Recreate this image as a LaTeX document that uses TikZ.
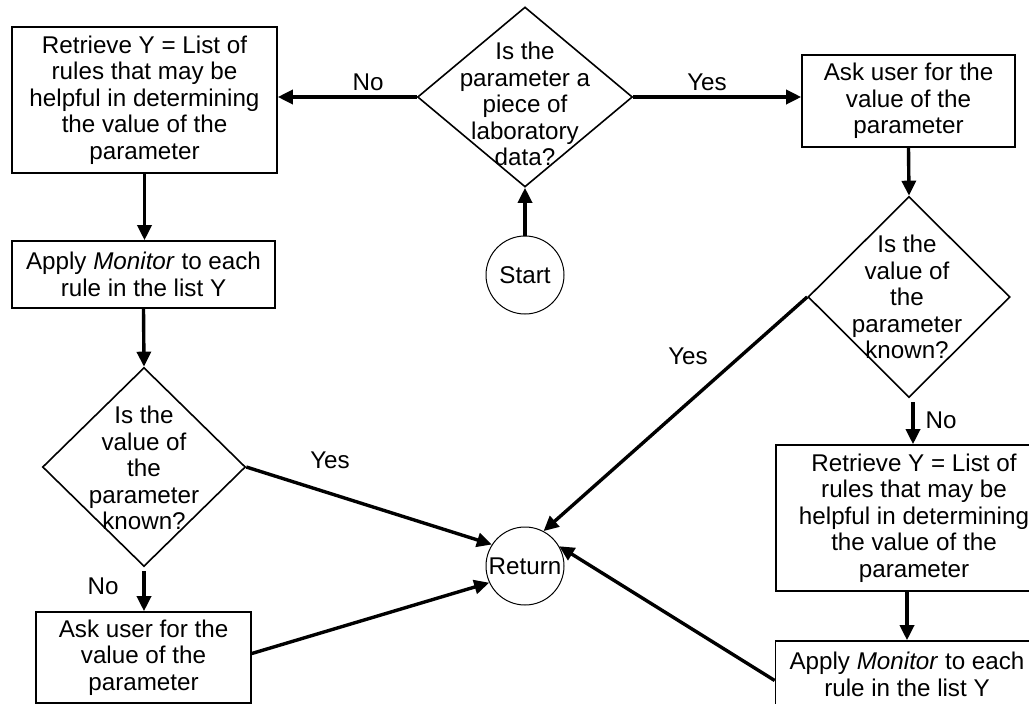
\documentclass[tikz,border=0pt]{standalone}
\usepackage{fontspec}
\setmainfont{Liberation Sans}
\usetikzlibrary{arrows.meta,shapes.geometric,calc}
\tikzset{
  txt/.style={font=\fontsize{24.2}{26.5}\selectfont, align=center, inner sep=0pt},
  procbox/.style={draw, line width=1.6pt, txt, inner sep=0pt},
  decision/.style={draw, shape=diamond, line width=1.6pt, inner sep=0pt},
  term/.style={draw, circle, line width=1pt, inner sep=0pt, minimum size=78pt, txt},
  flow/.style={line width=3.4pt, -{Triangle[length=15pt,width=14pt]}},
  lab/.style={txt}
}
\begin{document}
\begin{tikzpicture}[x=1pt,y=-1pt]
\clip (0,0) rectangle (1029,704);
\fill[white] (0,0) rectangle (1029,704);
% left column
\node[procbox, minimum width=265pt, minimum height=146pt] (box1) at (144.5,100) {Retrieve Y = List of\\rules that may be\\helpful in determining\\the value of the\\parameter};
\node[procbox, minimum width=263pt, minimum height=67pt] (apply1) at (143.5,274.5) {Apply \textit{Monitor} to each\\rule in the list Y};
\node[decision, minimum width=203pt, minimum height=199pt] (d3) at (144,467) {};
\node[txt] (d3t) at (144,468) {Is the\\value of\\the\\parameter\\known?};
\node[procbox, minimum width=215pt, minimum height=91pt] (ask1) at (143.5,657.5) {Ask user for the\\value of the\\parameter};
% middle
\node[decision, minimum width=215pt, minimum height=180pt] (d1) at (525,97) {};
\node[txt] (d1t) at (525,104) {Is the\\parameter a\\piece of\\laboratory\\data?};
\node[term] (start) at (525,275) {Start};
\node[term] (ret) at (525,566) {Return};
% right column
\node[procbox, minimum width=213pt, minimum height=92pt] (box2) at (908.5,101) {Ask user for the\\value of the\\parameter};
\node[decision, minimum width=202pt, minimum height=201pt] (d2) at (909,297) {};
\node[txt] (d2t) at (907,297) {Is the\\value of\\the\\parameter\\known?};
\node[procbox, minimum width=276pt, minimum height=146pt] (box3) at (914,518) {Retrieve Y = List of\\rules that may be\\helpful in determining\\the value of the\\parameter};
\node[procbox, minimum width=263pt, minimum height=67pt] (box4) at (907,674.5) {Apply \textit{Monitor} to each\\rule in the list Y};
% helper coordinates
\coordinate (n2s) at ($(d2.south)+(4,4)$);
\coordinate (n2e) at (n2s |- box3.north);
\coordinate (n3s) at ($(d3.south)+(0,4)$);
\coordinate (n3e) at (n3s |- ask1.north);
\coordinate (b4w) at ($(box4.west)+(0,6)$);
\coordinate (a1e) at ($(ask1.east)+(0,-4)$);
% connectors
\draw[flow] (d1.west) -- (d1.west -| box1.east);
\draw[flow] (d1.east) -- (d1.east -| box2.west);
\draw[flow] (start.north) -- (d1.south);
\draw[flow] (box2.south) -- (d2.north);
\draw[flow] (d2.west) -- (ret.62);
\draw[flow] (n2s) -- (n2e);
\draw[flow] (box3.south -| box4.north) -- (box4.north);
\draw[flow] (b4w) -- (ret.30);
\draw[flow] (box1.south) -- (box1.south |- apply1.north);
\draw[flow] (apply1.south) -- (d3.north);
\draw[flow] (d3.east) -- (ret.147);
\draw[flow] (n3s) -- (n3e);
\draw[flow] (a1e) -- (ret.205);
% labels
\node[lab] (lno1) at (368,82) {No};
\node[lab] (lyes1) at (707,82) {Yes};
\node[lab] (lyes2) at (688,356) {Yes};
\node[lab] (lno2) at (941,420) {No};
\node[lab] (lyes3) at (330,460) {Yes};
\node[lab] (lno3) at (103,586) {No};
\end{tikzpicture}
\end{document}
